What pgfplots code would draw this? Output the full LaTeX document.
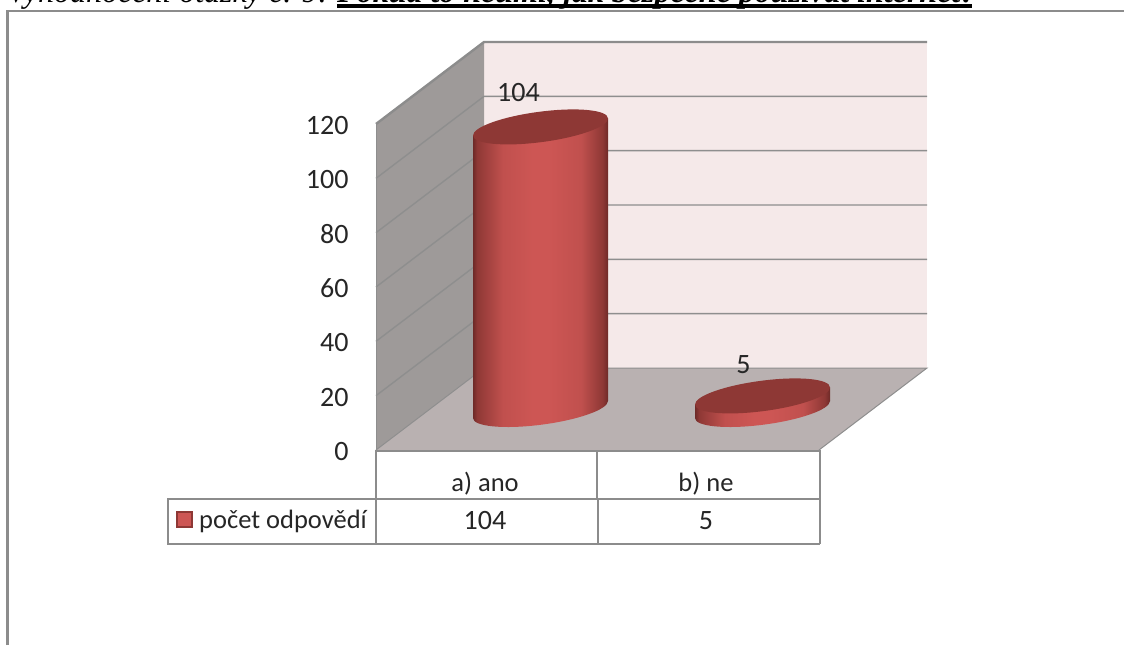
\documentclass[border=0pt]{standalone}
\usepackage{fontspec}
\setmainfont{Carlito}
\newfontfamily\headfont{Liberation Serif}
\usepackage{pgfplots}
\pgfplotsset{compat=1.18}

\definecolor{frameg}{HTML}{8C8C8C}
\definecolor{wallback}{HTML}{F5E9E9}
\definecolor{wallleft}{HTML}{9E9A99}
\definecolor{floorg}{HTML}{B9B1B1}
\definecolor{gridg}{HTML}{8E8E8E}
\definecolor{capred}{HTML}{8E3835}
\definecolor{barred}{HTML}{CD5654}
\definecolor{baredge}{HTML}{6E2A28}

% only the inner 25bp..75bp of a shading is seen
\pgfdeclarehorizontalshading{cyl}{100bp}{
  color(0bp)=(baredge);
  color(25bp)=(baredge);
  color(26.5bp)=(capred);
  color(36bp)=(barred!80!capred);
  color(47bp)=(barred);
  color(53bp)=(barred);
  color(65bp)=(barred!80!capred);
  color(73bp)=(capred);
  color(75bp)=(baredge);
  color(100bp)=(baredge)
}
\pgfdeclareplotmark{captop}{
  \pgfsetfillcolor{capred}
  \pgfpathellipse{\pgfpointorigin}{\pgfpoint{67.5pt}{8.5pt}}{\pgfpoint{0pt}{15.3pt}}
  \pgfusepath{fill}
}
\pgfdeclareplotmark{capbase}{
  \pgfpathellipse{\pgfpointorigin}{\pgfpoint{67.5pt}{8.5pt}}{\pgfpoint{0pt}{15.3pt}}
  \pgfshadepath{cyl}{0}
  \pgfusepath{discard}
}

\begin{document}
\begin{tikzpicture}
% page size, in pixels of the reference
\path[use as bounding box, clip] (0pt,0pt) rectangle (1124pt,-645pt);
\fill[white] (0pt,0pt) rectangle (1124pt,-645pt);

\begin{scope}[x=1pt,y=-1pt]
  % clipped heading line
  \node[anchor=base west, inner sep=0pt, font=\headfont\itshape\fontsize{32}{32}\selectfont] at (7,2.5) {Vyhodnocení otázky č. 9:};
  \node[anchor=base west, inner sep=0pt, font=\headfont\bfseries\itshape\fontsize{32}{32}\selectfont] at (337,2.5) {Pokud to neumí, jak bezpečně používat internet?};
  \fill[black] (337,4) rectangle (972,8);

  % outer frame
  \draw[frameg, line width=2.5pt] (7.5,645) -- (7.5,10.8) -- (1124,10.8);

  % chart walls and floor
  \fill[wallback] (484,42) rectangle (927,368);
  \fill[wallleft] (376,124) -- (484,42) -- (484,368) -- (376,450) -- cycle;
  \fill[floorg] (376,450) -- (484,368) -- (927,368) -- (819,450) -- cycle;
  \foreach \k in {1,...,5} {
    \draw[gridg, line width=1.4pt] (376,450-54.33*\k) -- (484,368-54.33*\k) -- (927,368-54.33*\k);
  }
  \draw[frameg, line width=2.4pt] (376,124) -- (484,42) -- (927,42);
  \draw[gridg, line width=1pt] (376,450) -- (484,368) -- (927,368) -- (819,450);
  \draw[gridg, line width=1pt] (376,124) -- (376,450);

  % data table
  \draw[frameg, line width=2pt] (376,450.5) -- (820,450.5);
  \draw[frameg, line width=2pt] (168,499) -- (820,499);
  \draw[frameg, line width=2pt] (168,544) -- (820,544);
  \draw[frameg, line width=2pt] (376,450) -- (376,544);
  \draw[frameg, line width=2pt] (596.5,450) -- (596.5,499);
  \draw[frameg, line width=2pt] (598,499) -- (598,544);
  \draw[frameg, line width=2pt] (819.5,450) -- (819.5,544);
  \draw[frameg, line width=2pt] (168,498) -- (168,545);
  \draw[capred, fill=barred, line width=1.5pt] (177,512) rectangle (192,527);
\end{scope}

\begin{axis}[
  at={(0pt,-645pt)}, anchor=south west,
  scale only axis, width=1124pt, height=645pt,
  xmin=0, xmax=1124,
  ymin=-71.77, ymax=165.62,
  clip=false,
  axis line style={draw=none},
  major tick length=0pt,
  xtick=\empty,
  ytick={0,20,40,60,80,100,120},
  yticklabel style={xshift=352pt, yshift=-1.5pt, anchor=east, font=\fontsize{28}{28}\selectfont, text=black!85},
  /pgf/number format/assume math mode=true,
]
% bases of the cylinders
\addplot[only marks, mark=capbase, yshift=40.5pt] coordinates {(540.5,0) (762.5,0)};
% cylinder bodies, sheared so that their top edge follows the tilted cap
\addplot[ybar, bar width=135pt, bar shift=0pt, draw=none, shading=cyl, yshift=-27.6pt, yslant=0.126] coordinates {(540.5,104)};
\addplot[ybar, bar width=135pt, bar shift=0pt, draw=none, shading=cyl, yshift=-55.6pt, yslant=0.126] coordinates {(762.5,5)};
% caps and value labels
\addplot[only marks, mark=captop, yshift=40.5pt,
  nodes near coords, point meta=y,
  nodes near coords style={anchor=center, xshift=-22pt, yshift=34pt, font=\fontsize{28}{28}\selectfont, text=black!85}]
  coordinates {(540.5,104)};
\addplot[only marks, mark=captop, yshift=40.5pt,
  nodes near coords, point meta=y,
  nodes near coords style={anchor=center, xshift=-19pt, yshift=31pt, font=\fontsize{28}{28}\selectfont, text=black!85}]
  coordinates {(762.5,5)};
\end{axis}

\begin{scope}[x=1pt,y=-1pt, every node/.style={font=\fontsize{26.5}{26.5}\selectfont, text=black!85, inner sep=0pt}]
  \node at (485,484) {a) ano};
  \node at (706,484) {b) ne};
  \node[font=\fontsize{28}{28}\selectfont] at (485,521) {104};
  \node[font=\fontsize{28}{28}\selectfont] at (706,521) {5};
  \node[anchor=west] at (199,521) {počet odpovědí};
\end{scope}
\end{tikzpicture}
\end{document}
